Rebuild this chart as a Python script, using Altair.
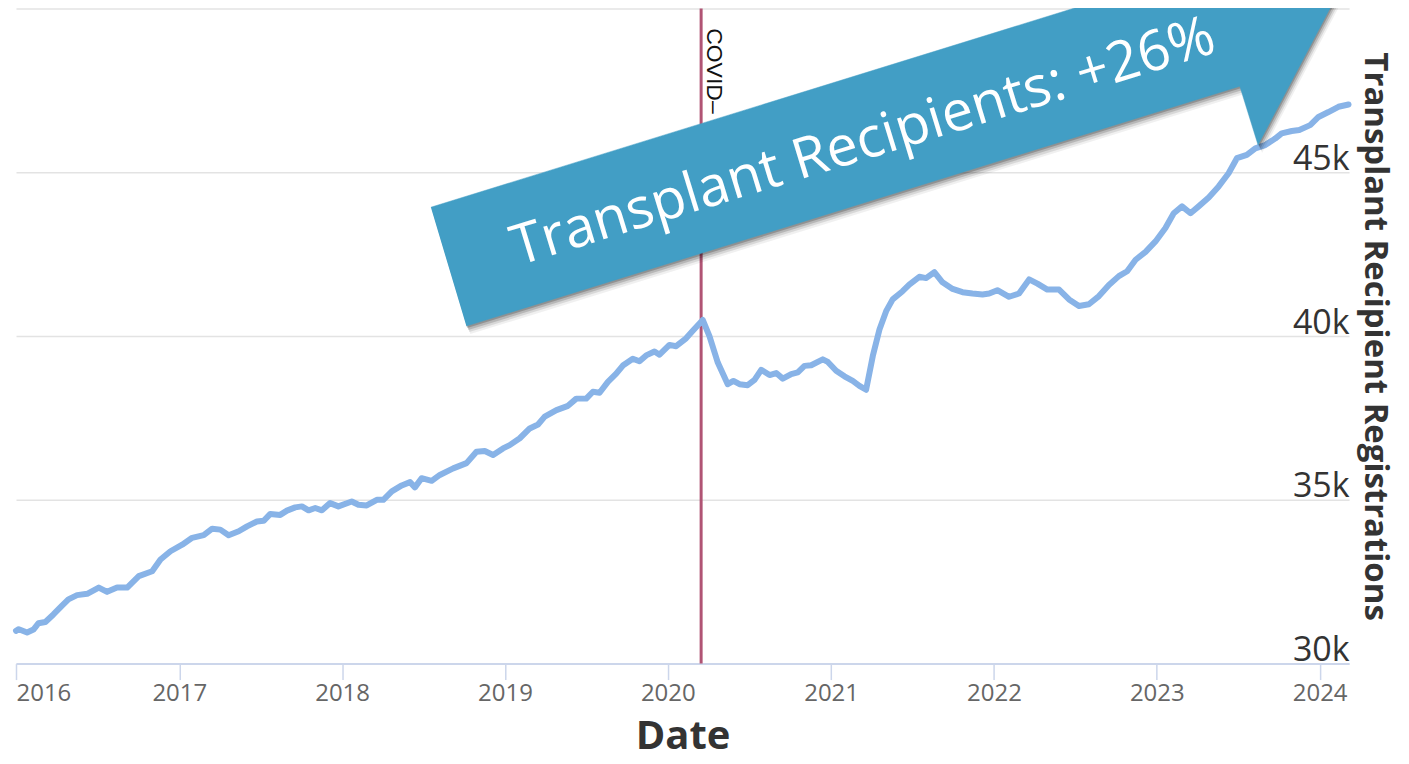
import altair as alt
import pandas as pd

# ---- data (decimal years, registrations) ----
YEARS = [
    2016.000, 2016.017, 2016.068, 2016.107, 2016.137, 2016.180, 2016.229, 2016.282, 2016.321, 2016.374,
    2016.436, 2016.507, 2016.558, 2016.619, 2016.681, 2016.752, 2016.834, 2016.885, 2016.946, 2017.018,
    2017.079, 2017.150, 2017.202, 2017.252, 2017.303, 2017.365, 2017.416, 2017.477, 2017.518, 2017.559,
    2017.620, 2017.661, 2017.712, 2017.753, 2017.794, 2017.835, 2017.876, 2017.926, 2017.977, 2018.059,
    2018.100, 2018.151, 2018.213, 2018.253, 2018.305, 2018.366, 2018.417, 2018.447, 2018.488, 2018.550,
    2018.600, 2018.682, 2018.764, 2018.825, 2018.876, 2018.927, 2018.988, 2019.029, 2019.091, 2019.152,
    2019.203, 2019.244, 2019.316, 2019.387, 2019.438, 2019.499, 2019.540, 2019.581, 2019.632, 2019.683,
    2019.724, 2019.785, 2019.826, 2019.867, 2019.918, 2019.949, 2020.010, 2020.051, 2020.112, 2020.153,
    2020.214, 2020.255, 2020.306, 2020.367, 2020.402, 2020.439, 2020.489, 2020.531, 2020.572, 2020.623,
    2020.664, 2020.704, 2020.756, 2020.796, 2020.837, 2020.878, 2020.949, 2020.980, 2021.031, 2021.082,
    2021.133, 2021.174, 2021.215, 2021.256, 2021.297, 2021.338, 2021.378, 2021.439, 2021.480, 2021.542,
    2021.583, 2021.634, 2021.684, 2021.746, 2021.807, 2021.868, 2021.930, 2021.971, 2022.021, 2022.093,
    2022.154, 2022.216, 2022.267, 2022.328, 2022.400, 2022.461, 2022.522, 2022.583, 2022.645, 2022.706,
    2022.767, 2022.818, 2022.870, 2022.931, 2022.992, 2023.053, 2023.104, 2023.155, 2023.207, 2023.257,
    2023.319, 2023.380, 2023.441, 2023.492, 2023.553, 2023.605, 2023.666, 2023.727, 2023.767, 2023.829,
    2023.875, 2023.942, 2023.993, 2024.054, 2024.115, 2024.177,
]
REGISTRATIONS = [
    31000, 31050, 30950, 31040, 31230, 31270, 31500, 31770, 31960, 32090,
    32130, 32320, 32190, 32320, 32320, 32670, 32820, 33180, 33430, 33630,
    33840, 33920, 34120, 34090, 33920, 34040, 34190, 34340, 34360, 34570,
    34540, 34670, 34770, 34800, 34680, 34750, 34680, 34900, 34800, 34950,
    34850, 34830, 35000, 35000, 35260, 35440, 35540, 35380, 35660, 35580,
    35760, 35960, 36120, 36470, 36490, 36370, 36570, 36670, 36880, 37180,
    37300, 37540, 37740, 37870, 38090, 38090, 38300, 38270, 38600, 38850,
    39100, 39310, 39230, 39410, 39530, 39430, 39730, 39690, 39930, 40160,
    40490, 40000, 39190, 38530, 38630, 38530, 38500, 38660, 38970, 38810,
    38870, 38700, 38840, 38890, 39090, 39110, 39290, 39210, 38940, 38770,
    38630, 38480, 38360, 39390, 40200, 40760, 41120, 41370, 41570, 41810,
    41770, 41950, 41640, 41440, 41340, 41300, 41270, 41300, 41400, 41200,
    41300, 41730, 41600, 41420, 41420, 41120, 40920, 40970, 41220, 41560,
    41830, 41980, 42330, 42570, 42890, 43300, 43750, 43960, 43750, 43960,
    44230, 44570, 44970, 45430, 45530, 45730, 45830, 46030, 46190, 46260,
    46290, 46440, 46690, 46840, 47000, 47070,
]

COVID_DATE = 2020.204
COVID_LABEL = "COVID–"
COVID_LABEL_VALUE = 49400

# annotation arrow outline (decimal years, registrations), in drawing order
ARROW_YEARS = [2018.545, 2023.288, 2023.172, 2024.121, 2023.622, 2023.510, 2018.763]
ARROW_VALUES = [43933, 51235, 53018, 50549, 45833, 47625, 40305]
ARROW_TEXT = "Transplant Recipients: +26%"
ARROW_TEXT_YEAR = 2021.198
ARROW_TEXT_VALUE = 45915

Y_TICKS = [30000, 35000, 40000, 45000, 50000]


def to_date(t):
    y = int(t)
    start = pd.Timestamp(year=y, month=1, day=1)
    end = pd.Timestamp(year=y + 1, month=1, day=1)
    return (start + (end - start) * (t - y)).strftime("%Y-%m-%dT%H:%M:%S")


series = pd.DataFrame({"date": [to_date(t) for t in YEARS], "value": REGISTRATIONS})
covid = pd.DataFrame({"date": [to_date(COVID_DATE)], "value": [COVID_LABEL_VALUE], "label": [COVID_LABEL]})
arrow = pd.DataFrame({
    "date": [to_date(t) for t in ARROW_YEARS],
    "value": ARROW_VALUES,
    "order": list(range(len(ARROW_YEARS))),
})
arrow_text = pd.DataFrame({"date": [to_date(ARROW_TEXT_YEAR)], "value": [ARROW_TEXT_VALUE], "label": [ARROW_TEXT]})

x_scale = alt.Scale(
    domain=[alt.DateTime(year=2016, month=1, date=1), alt.DateTime(year=2024, month=3, date=7)],
    nice=False,
)
y_scale = alt.Scale(domain=[30000, 50000], nice=False, zero=False)

x_axis = alt.Axis(
    format="%Y",
    tickCount={"interval": "year", "step": 1},
    grid=False,
    domainColor="#ccd6eb",
    domainWidth=2,
    tickColor="#ccd6eb",
    tickWidth=1.5,
    tickSize=16,
    labelPadding=2,
    labelFont="Open Sans",
    labelFontSize=24,
    labelColor="#666666",
    title="Date",
    titleFont="Open Sans",
    titleFontSize=40,
    titleFontWeight="bold",
    titleColor="#333333",
    titleX=667.5,
    titleY=85,
    titleAlign="center",
    titleBaseline="alphabetic",
)
y_axis = alt.Axis(
    orient="right",
    values=Y_TICKS,
    format="~s",
    labelExpr="datum.value >= 50000 ? '' : datum.label",
    grid=True,
    gridColor="#e3e3e3",
    gridWidth=1.5,
    domain=False,
    ticks=False,
    labelAlign="right",
    labelBaseline="alphabetic",
    labelPadding=0,
    labelOffset=-3,
    labelFont="Open Sans",
    labelFontSize=34,
    labelColor="#333333",
    title="Transplant Recipient Registrations",
    titleFont="Open Sans",
    titleFontSize=33,
    titleFontWeight="bold",
    titleColor="#333333",
    titleAngle=90,
    titleX=15,
    titleY=328,
    titleAlign="center",
    titleBaseline="alphabetic",
)

X = alt.X("date:T", scale=x_scale, axis=x_axis)
Y = alt.Y("value:Q", scale=y_scale, axis=y_axis)

line = alt.Chart(series).mark_line(
    color="#88b3e7", strokeWidth=6, strokeJoin="round", strokeCap="round"
).encode(x=X, y=Y)

rule = alt.Chart(covid).mark_rule(color="#b05474", strokeWidth=3).encode(x=X)

covid_text = alt.Chart(covid).mark_text(
    angle=90, align="left", baseline="alphabetic", dy=-6,
    font="Liberation Sans", fontSize=23, color="#111111",
).encode(x=X, y=Y, text="label:N")

shadows = []
for dx, dy, op in [(1, 2, 0.2), (2, 4, 0.15), (3, 6, 0.1), (4, 8, 0.06)]:
    shadows.append(
        alt.Chart(arrow).mark_line(
            fill="#000000", fillOpacity=op, strokeWidth=0, xOffset=dx, yOffset=dy
        ).encode(x=X, y=Y, order="order:Q")
    )

arrow_shape = alt.Chart(arrow).mark_line(
    fill="#429ec5", fillOpacity=1, stroke="#429ec5", strokeWidth=0.5
).encode(x=X, y=Y, order="order:Q")

arrow_label = alt.Chart(arrow_text).mark_text(
    angle=343, align="center", baseline="middle",
    font="Open Sans", fontSize=56, color="#ffffff",
).encode(x=X, y=Y, text="label:N")

chart = alt.layer(
    rule, covid_text, line, *shadows, arrow_shape, arrow_label
).properties(
    width=1335,
    height=656,
    autosize=alt.AutoSizeParams(type="none"),
    padding={"left": 8, "top": 0, "right": 52, "bottom": 90},
    background="#ffffff",
).configure_view(stroke=None)

chart.save("out.html", embed_options={"renderer": "svg", "actions": False})
